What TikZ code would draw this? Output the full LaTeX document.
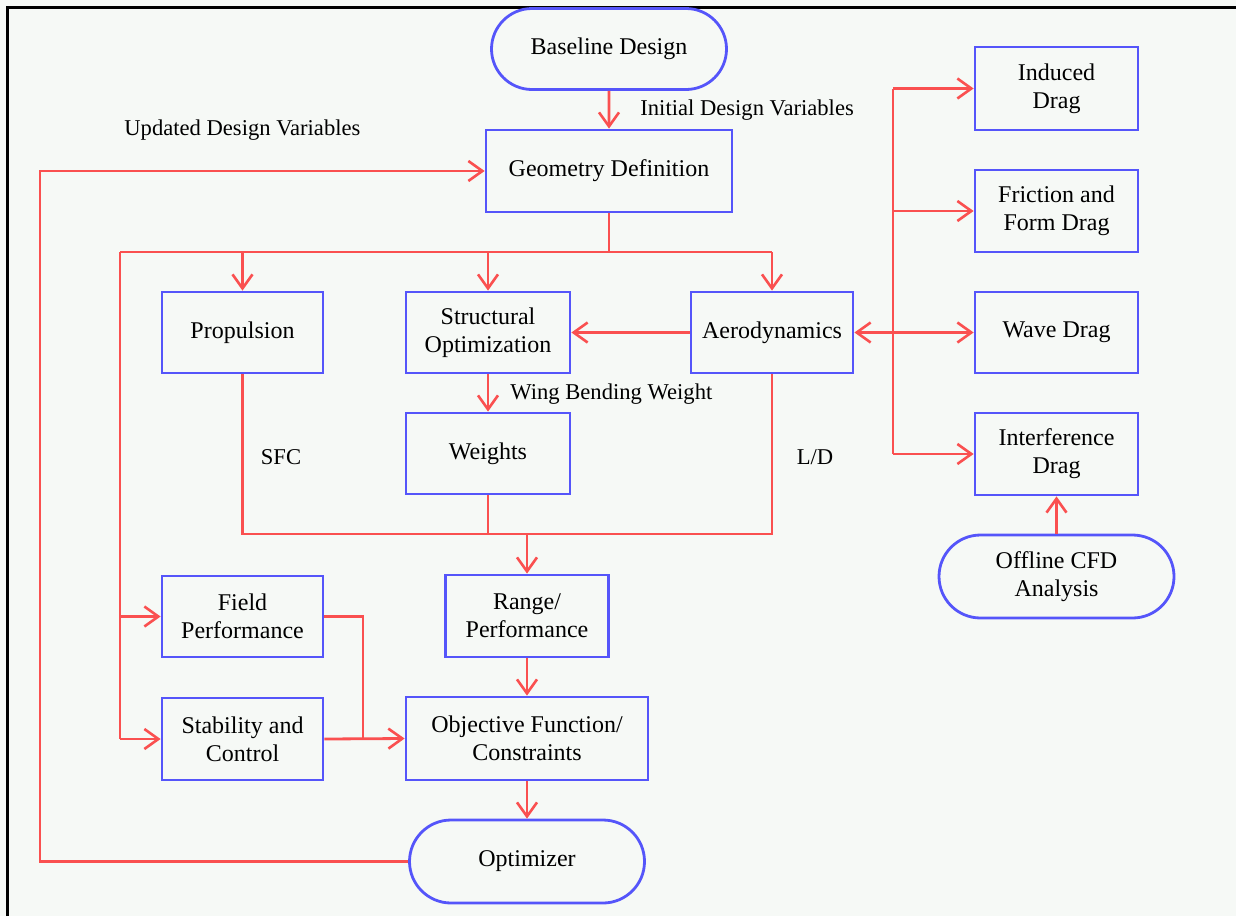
\documentclass[tikz,border=0pt]{standalone}
\usepackage{fontspec}
\setmainfont{Liberation Serif}
\usetikzlibrary{arrows.meta,shapes.misc}
\definecolor{bg}{RGB}{246,249,246}
\definecolor{lred}{RGB}{250,80,80}
\definecolor{lblue}{RGB}{85,85,250}
\tikzset{
  blk/.style={draw=lblue, line width=1.4pt, rectangle, align=center, inner sep=2pt, font=\fontsize{12}{14}\selectfont},
  stad/.style={draw=lblue, line width=1.4pt, rounded rectangle, align=center, inner sep=2pt, font=\fontsize{12}{14}\selectfont},
  con/.style={draw=lred, line width=1.4pt},
  arr/.style={con, -{Straight Barb[length=7pt,width=10pt,line width=1.3pt]}},
  lbl/.style={font=\fontsize{11.3}{13}\selectfont, inner sep=0pt}
}
\begin{document}
\begin{tikzpicture}[x=0.5pt,y=-0.5pt]
\fill[bg] (0,0) rectangle (1236,916);
\useasboundingbox (0,0) rectangle (1236,916);
\draw[line width=1.5pt] (7,916) -- (7,7) -- (1236,7);

% nodes
\node[stad, minimum width=121.5pt, minimum height=40.5pt] (base) at (609,49) {Baseline Design};
\node[blk, minimum width=123pt, minimum height=41pt] (geom) at (609,171) {Geometry Definition};
\node[blk, minimum width=80.5pt, minimum height=40.5pt] (prop) at (242.5,332.5) {Propulsion};
\node[blk, minimum width=82pt, minimum height=40.5pt] (struct) at (488,332.5) {Structural\\Optimization};
\node[blk, minimum width=81pt, minimum height=40.5pt] (aero) at (772,332.5) {Aerodynamics};
\node[blk, minimum width=82pt, minimum height=40.5pt] (weights) at (488,453.5) {Weights};
\node[blk, minimum width=81.5pt, minimum height=41pt] (range) at (527,616) {Range/\\Performance};
\node[blk, minimum width=121pt, minimum height=41.5pt] (obj) at (527,738.5) {Objective Function/\\Constraints};
\node[stad, minimum width=121.5pt, minimum height=41.5pt] (opt) at (527,861.5) {Optimizer};
\node[blk, minimum width=80.5pt, minimum height=40.5pt] (field) at (242.5,616.5) {Field\\Performance};
\node[blk, minimum width=80.5pt, minimum height=41pt] (stab) at (242.5,739) {Stability and\\Control};
\node[blk, minimum width=81.5pt, minimum height=41.5pt] (induced) at (1056.5,88.5) {Induced\\Drag};
\node[blk, minimum width=81.5pt, minimum height=41pt] (friction) at (1056.5,211) {Friction and\\Form Drag};
\node[blk, minimum width=81.5pt, minimum height=40.5pt] (wave) at (1056.5,332.5) {Wave Drag};
\node[blk, minimum width=81.5pt, minimum height=41pt] (interf) at (1056.5,454) {Interference\\Drag};
\node[stad, minimum width=121.5pt, minimum height=41.5pt] (cfd) at (1056.5,576.5) {Offline CFD\\Analysis};

% labels
\node[lbl, anchor=west] (l1) at (640,110) {Initial Design Variables};
\node[lbl, anchor=west] (l2) at (124,130) {Updated Design Variables};
\node[lbl, anchor=west] (l3) at (510,394) {Wing Bending Weight};
\node[lbl] (l4) at (281,457) {SFC};
\node[lbl] (l5) at (815,457) {L/D};

% junction coordinates
\coordinate (jtop) at (609,252);
\coordinate (jl) at (120,252);
\coordinate (jbot) at (527,534);
\coordinate (jfb) at (40,861.5);
\coordinate (jsc) at (363,739);
\coordinate (jdrag) at (893,332.5);

% connectors
\draw[arr] (base) -- (geom);
\draw[arr] (opt.west) -- (jfb) |- (geom.west);
\draw[con] (geom.south) -- (jtop);
\draw[con] (jl) -- (aero.north |- jtop);
\draw[arr] (prop.north |- jtop) -- (prop.north);
\draw[arr] (struct.north |- jtop) -- (struct.north);
\draw[arr] (aero.north |- jtop) -- (aero.north);
\draw[con] (jl) -- (jl |- stab.west);
\draw[arr] (jl |- field.west) -- (field.west);
\draw[arr] (jl |- stab.west) -- (stab.west);
\draw[arr] (aero.west) -- (struct.east);
\draw[arr] (struct.south) -- (weights.north);
\draw[con] (prop.south) -- (prop.south |- jbot) -- (aero.south |- jbot) -- (aero.south);
\draw[con] (weights.south) -- (weights.south |- jbot);
\draw[arr] (jbot) -- (range.north);
\draw[arr] (range.south) -- (obj.north);
\draw[arr] (obj.south) -- (opt.north);
\draw[con] (field.east) -- (jsc |- field.east) -- (jsc);
\draw[arr] (stab.east) -- (obj.west);
\draw[arr] (jdrag) -- (aero.east);
\draw[arr] (jdrag) -- (wave.west);
\draw[con] (jdrag |- induced.west) -- (jdrag |- interf.west);
\draw[arr] (jdrag |- induced.west) -- (induced.west);
\draw[arr] (jdrag |- friction.west) -- (friction.west);
\draw[arr] (jdrag |- interf.west) -- (interf.west);
\draw[arr] (cfd.north) -- (interf.south);
\end{tikzpicture}
\end{document}
